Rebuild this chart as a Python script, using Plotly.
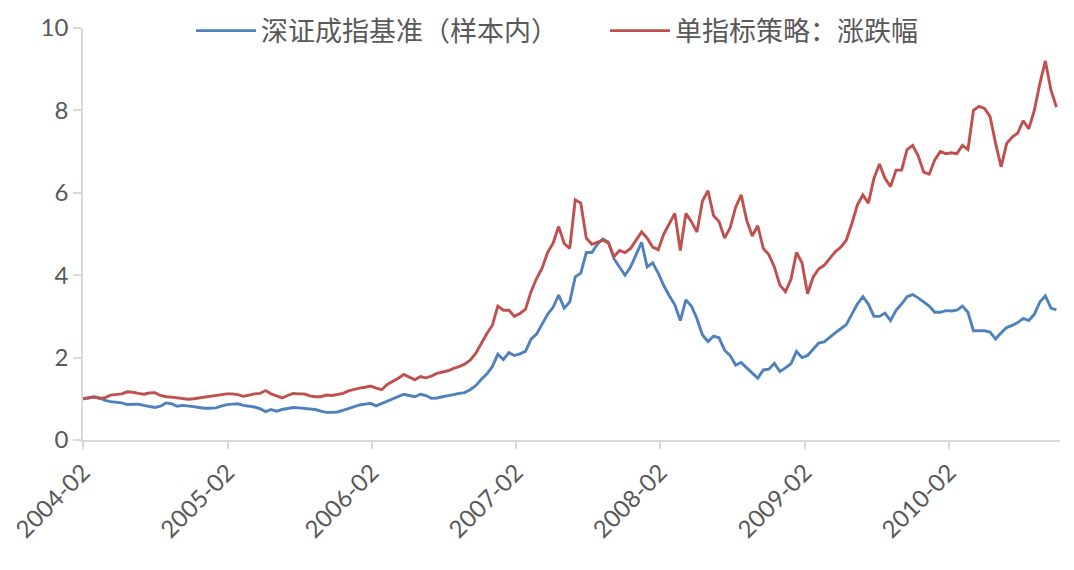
import plotly.graph_objects as go
import pandas as pd

start_date = "2004-02-01"

benchmark_name = "深证成指基准（样本内）"
strategy_name = "单指标策略：涨跌幅"

benchmark = [
    1.00, 1.03, 1.05, 1.02, 0.96, 0.93, 0.92, 0.90, 0.86, 0.87, 0.87, 0.84, 0.82, 0.79, 0.82, 0.90, 0.88, 0.82, 0.84, 0.83, 0.81, 0.79, 0.77, 0.77, 0.78, 0.82, 0.86,
    0.87, 0.88, 0.84, 0.82, 0.80, 0.76, 0.69, 0.74, 0.70, 0.74, 0.77, 0.79, 0.78, 0.77, 0.76, 0.74, 0.70, 0.67, 0.67, 0.68, 0.72, 0.76, 0.80, 0.85, 0.87, 0.89,
    0.83, 0.89, 0.95, 0.99, 1.05, 1.11, 1.08, 1.05, 1.11, 1.08, 1.01, 1.02, 1.05, 1.07, 1.10, 1.13, 1.15, 1.22, 1.32, 1.47, 1.60, 1.78, 2.08, 1.95, 2.12, 2.05, 2.09,
    2.15, 2.45, 2.57, 2.82, 3.05, 3.22, 3.52,
    3.20, 3.35, 3.96, 4.05, 4.55, 4.55, 4.75, 4.88, 4.80, 4.40, 4.20, 4.00, 4.20, 4.50, 4.80, 4.20, 4.30, 4.05,
    3.75, 3.50, 3.28, 2.90, 3.40, 3.25, 2.95, 2.55, 2.39, 2.52, 2.48, 2.18, 2.05, 1.82, 1.88, 1.75, 1.62, 1.50, 1.70, 1.72, 1.86,
    1.66, 1.75, 1.85, 2.15, 2.00, 2.05,
    2.20, 2.35, 2.38, 2.50, 2.60, 2.70, 2.80, 3.05, 3.30, 3.48, 3.30, 3.00, 3.00, 3.08, 2.90, 3.15, 3.30, 3.48, 3.53, 3.45, 3.35, 3.25, 3.10,
    3.10, 3.14, 3.13, 3.15, 3.25, 3.10, 2.65, 2.65, 2.65, 2.62, 2.45, 2.60, 2.73, 2.78, 2.85, 2.95, 2.90, 3.05, 3.35, 3.50, 3.20, 3.16,
]

strategy = [
    1.00, 1.02, 1.04, 1.01, 1.03, 1.09, 1.10, 1.12, 1.17, 1.16, 1.13, 1.11, 1.14, 1.15, 1.08, 1.05, 1.04, 1.02, 1.00, 0.99, 1.00, 1.02, 1.04, 1.06, 1.08, 1.11, 1.12,
    1.12, 1.10, 1.06, 1.09, 1.12, 1.13, 1.20, 1.12, 1.06, 1.02, 1.08, 1.13, 1.12, 1.12, 1.07, 1.05, 1.05, 1.09, 1.08, 1.10, 1.13, 1.19, 1.23, 1.26, 1.28, 1.31,
    1.26, 1.22, 1.35, 1.42, 1.50, 1.59, 1.52, 1.46, 1.54, 1.51, 1.55, 1.62, 1.65, 1.68, 1.74, 1.78, 1.84, 1.94, 2.10, 2.35, 2.58, 2.78, 3.25, 3.15, 3.15, 3.00, 3.07,
    3.17, 3.60, 3.92, 4.17, 4.55, 4.78, 5.18,
    4.77, 4.65, 5.83, 5.75, 4.90, 4.75, 4.80, 4.85, 4.78, 4.45, 4.60, 4.55, 4.65, 4.85, 5.05, 4.90, 4.68, 4.62,
    5.00, 5.25, 5.50, 4.60, 5.50, 5.30, 5.05, 5.80, 6.05, 5.45, 5.30, 4.90, 5.15, 5.65, 5.95, 5.33, 4.95, 5.20, 4.65, 4.50, 4.20,
    3.76, 3.60, 3.90, 4.55, 4.30, 3.55,
    3.95, 4.15, 4.24, 4.40, 4.57, 4.68, 4.85, 5.25, 5.70, 5.95, 5.75, 6.35, 6.70, 6.35, 6.15, 6.55, 6.55, 7.05, 7.15, 6.90, 6.50, 6.45, 6.80,
    7.00, 6.95, 6.97, 6.95, 7.15, 7.05, 8.00, 8.10, 8.05, 7.85, 7.20, 6.63, 7.20, 7.35, 7.45, 7.75, 7.55, 8.00, 8.65, 9.20, 8.50, 8.08,
]

tick_vals = ["2004-02-01", "2005-02-01", "2006-02-01", "2007-02-01", "2008-02-01", "2009-02-01", "2010-02-01"]
tick_text = ["2004-02", "2005-02", "2006-02", "2007-02", "2008-02", "2009-02", "2010-02"]
y_ticks = [0, 2, 4, 6, 8, 10]

dates = pd.date_range(start_date, periods=len(benchmark), freq="14D")

fig = go.Figure()
fig.add_trace(go.Scatter(x=dates, y=benchmark, mode="lines", name=benchmark_name,
                         line=dict(color="#4F81BD", width=2.9), legend="legend"))
fig.add_trace(go.Scatter(x=dates, y=strategy, mode="lines", name=strategy_name,
                         line=dict(color="#C0504D", width=2.9), legend="legend2"))

axis_color = "#D9D9D9"
text_color = "#595959"
tick_font = dict(family="Lato, Liberation Sans, sans-serif", size=24, color=text_color)
legend_font = dict(family="Noto Sans CJK SC, sans-serif", size=27, color=text_color)

fig.update_layout(
    width=1074, height=570,
    margin=dict(l=75, r=22, t=20, b=138, autoexpand=False),
    paper_bgcolor="white", plot_bgcolor="white",
    showlegend=True,
    legend=dict(orientation="h", xref="container", yref="container",
                x=0.1704, xanchor="left", y=0.9596, yanchor="middle",
                bgcolor="rgba(0,0,0,0)", itemwidth=60, font=legend_font),
    legend2=dict(orientation="h", xref="container", yref="container",
                 x=0.5559, xanchor="left", y=0.9596, yanchor="middle",
                 bgcolor="rgba(0,0,0,0)", itemwidth=60, font=legend_font),
    xaxis=dict(range=["2004-02-01", "2010-11-09"], tickvals=tick_vals, ticktext=tick_text,
               tickangle=-45, showgrid=False, zeroline=False, showline=True, automargin=False,
               linecolor=axis_color, linewidth=1.5, ticks="outside", ticklen=7,
               tickcolor=axis_color, tickwidth=1.5, tickfont=tick_font),
    yaxis=dict(range=[0, 10], tickvals=y_ticks, showgrid=False, zeroline=False, automargin=False,
               showline=True, linecolor=axis_color, linewidth=1.5, ticks="outside",
               ticklen=8, tickcolor=axis_color, tickwidth=1.5, tickfont=tick_font),
)

fig.write_html("out.html")
